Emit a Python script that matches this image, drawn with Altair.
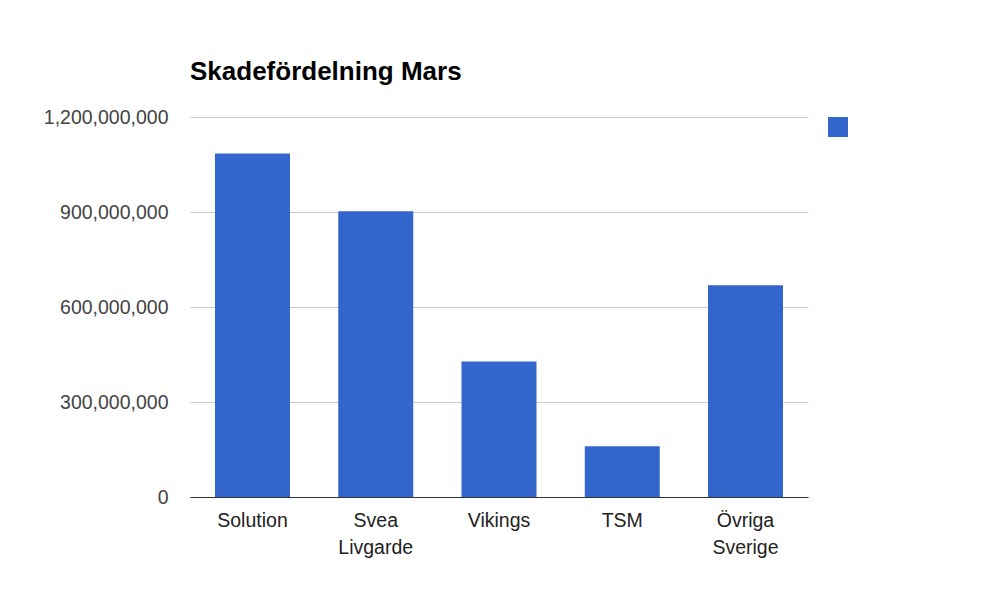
import altair as alt
import pandas as pd

categories = ["Solution", "Svea Livgarde", "Vikings", "TSM", "Övriga Sverige"]
values = [1085000000, 902000000, 428000000, 160000000, 669000000]
series = [" "] * len(categories)
y_ticks = [0, 300000000, 600000000, 900000000, 1200000000]

df = pd.DataFrame({"kategori": categories, "varde": values, "serie": series})

FONT = "Liberation Sans"

chart = alt.Chart(df).mark_bar(color="#3366cc").encode(
    x=alt.X(
        "kategori:N",
        sort=categories,
        scale=alt.Scale(paddingInner=0.3915, paddingOuter=0.2028),
        axis=alt.Axis(
            title=None, labelAngle=0, ticks=False, labelPadding=14,
            labelFontSize=19.5, labelColor="#222222", labelFont=FONT,
            labelExpr="split(datum.label, ' ')", labelLineHeight=27,
            domainColor="#333333", domainWidth=1.2, labelBaseline="top",
        ),
    ),
    y=alt.Y(
        "varde:Q",
        scale=alt.Scale(domain=[0, 1200000000], nice=False),
        axis=alt.Axis(
            title=None, values=y_ticks, format=",d", ticks=False, domain=False,
            labelPadding=22, labelFontSize=19.5, labelColor="#444444", labelFont=FONT,
            gridColor="#cccccc", gridWidth=1.2,
        ),
    ),
    color=alt.Color(
        "serie:N",
        scale=alt.Scale(range=["#3366cc"]),
        legend=alt.Legend(
            title=None, orient="none", legendX=638, legendY=0,
            symbolType="square", symbolSize=400, symbolStrokeWidth=0,
            labelExpr="''", padding=0, labelFontSize=1,
        ),
    ),
).properties(
    width=618,
    height=380,
    padding={"left": 182, "top": 109, "right": 182, "bottom": 100},
    autosize=alt.AutoSizeParams(type="none"),
    title=alt.TitleParams(
        "Skadefördelning Mars", anchor="start", font=FONT, fontSize=26,
        fontWeight="bold", color="#000000", baseline="alphabetic", offset=1,
        frame="group",
    ),
).configure_view(stroke=None)

chart.save("out.html", embed_options={"renderer": "svg", "actions": False})
